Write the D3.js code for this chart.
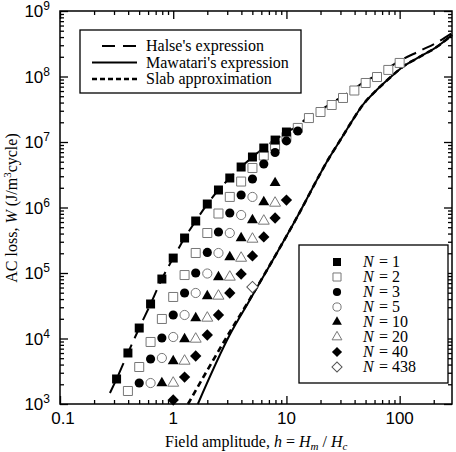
<!DOCTYPE html>
<html>
<head>
<meta charset="utf-8">
<script src="https://d3js.org/d3.v7.min.js"></script>
<style>
  body { margin: 0; background: #fff; }
  text { font-family: "Liberation Serif", "Times New Roman", serif; fill: #000; }
  .num { font-family: "Liberation Sans", Arial, sans-serif; font-size: 17px; }
</style>
</head>
<body>
<div id="chart"></div>
<script>
// h values are on a 0.1-decade grid, W in J/m3cycle
var n1 = [[0.316, 2410], [0.398, 6010], [0.501, 14450], [0.631, 33650], [0.794, 80900], [1.0, 1.69e5],
          [1.26, 3.42e5], [1.58, 6.22e5], [2.0, 1.13e6], [2.51, 1.85e6], [3.16, 2.82e6], [3.98, 4.15e6],
          [5.01, 5.90e6], [6.31, 8.09e6], [7.94, 1.07e7], [10.0, 1.42e7]];
var n2 = [[0.398, 1580], [0.501, 3670], [0.631, 8850], [0.794, 19860], [1.0, 43050], [1.26, 93100],
          [1.58, 2.02e5], [2.0, 4.08e5], [2.51, 8.09e5], [3.16, 1.45e6], [3.98, 2.49e6], [5.01, 4.01e6],
          [6.31, 6.22e6], [7.94, 8.69e6], [10.0, 1.19e7], [12.6, 1.64e7], [15.8, 2.32e7], [20.0, 2.87e7],
          [25.1, 3.67e7], [31.6, 4.70e7], [39.8, 6.11e7], [50.1, 7.96e7], [63.1, 9.82e7], [79.4, 1.26e8],
          [100, 1.61e8]];
var n3 = [[0.501, 2090], [0.631, 4870], [0.794, 10180], [1.0, 22860], [1.26, 49540], [1.58, 1.0e5],
          [2.0, 2.06e5], [2.51, 4.23e5], [3.16, 8.24e5], [3.98, 1.55e6], [5.01, 2.72e6], [6.31, 4.61e6],
          [7.94, 6.92e6], [10.0, 1.04e7], [12.6, 1.47e7]];
var n5 = [[0.631, 2090], [0.794, 5040], [1.0, 10540], [1.26, 22860], [1.58, 49540], [2.0, 98200],
          [2.51, 2.02e5], [3.16, 4.08e5], [3.98, 7.68e5], [5.01, 1.45e6]];
var n10 = [[0.794, 2090], [1.0, 4530], [1.26, 9820], [1.58, 20560], [2.0, 44570], [2.51, 86900],
           [3.16, 1.75e5], [3.98, 3.42e5], [5.01, 6.44e5], [6.31, 1.21e6], [7.94, 2.37e6]];
var n20 = [[1.0, 2090], [1.26, 4530], [1.58, 9820], [2.0, 20560], [2.51, 44570], [3.16, 86900],
           [3.98, 1.69e5], [5.01, 3.30e5], [6.31, 6.22e5], [7.94, 1.17e6]];
var n40 = [[1.0, 1150], [1.26, 2580], [1.58, 5400], [2.0, 11300], [2.51, 22860], [3.16, 49540],
           [3.98, 96600], [5.01, 1.82e5], [6.31, 3.55e5], [7.94, 6.92e5], [10.0, 1.30e6]];
var n438 = [[5.01, 61100]];

var halse = [[0.276, 1470]].concat(n1, [[12.6, 1.75e7], [15.8, 2.49e7], [20.0, 3.08e7], [25.1, 3.94e7],
             [31.6, 5.04e7], [39.8, 6.56e7], [50.1, 8.53e7], [63.1, 1.05e8], [79.4, 1.35e8], [100, 1.73e8],
             [150, 2.45e8], [225, 3.48e8], [290, 4.6e8]]);
var mawatari = [[1.65, 1000], [3.16, 1.14e4], [4.75, 3.87e4], [12.3, 6.92e5], [24.1, 5.90e6], [30.7, 1.15e7],
                [38.5, 2.17e7], [47.2, 3.67e7], [62.7, 6.22e7], [81.6, 9.48e7], [106, 1.40e8],
                [150, 1.99e8], [212, 2.82e8], [290, 4.3e8]];
var slab = [[1.35, 1000], [3.16, 1.26e4], [4.75, 4.0e4], [12.3, 6.92e5], [24.1, 5.90e6], [30.7, 1.15e7],
            [38.5, 2.17e7], [47.2, 3.67e7], [62.7, 6.22e7], [81.6, 9.48e7], [106, 1.40e8],
            [150, 1.99e8], [212, 2.82e8], [290, 4.3e8]];

var xTicks = [0.1, 1, 10, 100];
var xTickLabels = ["0.1", "1", "10", "100"];
var yTicks = [1e3, 1e4, 1e5, 1e6, 1e7, 1e8, 1e9];
var yExp = ["3", "4", "5", "6", "7", "8", "9"];
var seriesNames = ["1", "2", "3", "5", "10", "20", "40", "438"];
var lineNames = ["Halse's expression", "Mawatari's expression", "Slab approximation"];

var W = 456, H = 452;
var pLeft = 60, pRight = 452, pTop = 11, pBottom = 404;

var svg = d3.select("#chart").append("svg")
    .attr("width", W).attr("height", H);
svg.append("rect").attr("width", W).attr("height", H).attr("fill", "#fff");

var x = d3.scaleLog().domain([0.1, 290]).range([pLeft, pRight]);
var y = d3.scaleLog().domain([1e3, 1e9]).range([pBottom, pTop]);

function minors(lo, hi) {
    var out = [];
    for (var d = lo; d < hi; d *= 10)
        for (var m = 2; m <= 9; m++) if (d * m <= hi) out.push(d * m);
    return out;
}
var xMinor = minors(0.1, 290), yMinor = minors(1e3, 1e9);

// axes: ticks pointing inward on all four sides
function tickAxis(axis, vals, size, tr) {
    svg.append("g").attr("transform", tr)
        .call(axis.tickValues(vals).tickSize(size).tickFormat(""))
        .call(function (g) { g.select(".domain").remove(); })
        .selectAll("line").attr("stroke", "#000").attr("stroke-width", 1.3);
}
[[xTicks, 8], [xMinor, 4]].forEach(function (t) {
    tickAxis(d3.axisBottom(x), t[0], -t[1], "translate(0," + pBottom + ")");
    tickAxis(d3.axisTop(x), t[0], -t[1], "translate(0," + pTop + ")");
});
[[yTicks, 8], [yMinor, 4]].forEach(function (t) {
    tickAxis(d3.axisLeft(y), t[0], -t[1], "translate(" + pLeft + ",0)");
    tickAxis(d3.axisRight(y), t[0], -t[1], "translate(" + pRight + ",0)");
});

svg.append("rect")
    .attr("x", pLeft).attr("y", pTop)
    .attr("width", pRight - pLeft).attr("height", pBottom - pTop)
    .attr("fill", "none").attr("stroke", "#000").attr("stroke-width", 1.5);

svg.selectAll(".xl").data(xTicks).enter().append("text")
    .attr("class", "num")
    .attr("x", function (d) { return x(d) + (d === 0.1 ? 3 : 0); })
    .attr("y", 424)
    .attr("text-anchor", "middle")
    .text(function (d, i) { return xTickLabels[i]; });

var yl = svg.selectAll(".yl").data(yTicks).enter().append("text")
    .attr("class", "num")
    .attr("x", 50)
    .attr("y", function (d) { return y(d) + 6; })
    .attr("text-anchor", "end");
yl.append("tspan").text("10");
yl.append("tspan").attr("font-size", "12px").attr("dy", -7)
    .text(function (d, i) { return yExp[i]; });

// axis titles
var xt = svg.append("text").attr("x", 165).attr("y", 447).attr("font-size", "16px");
xt.append("tspan").text("Field amplitude, ");
xt.append("tspan").attr("font-style", "italic").text("h");
xt.append("tspan").text(" = ");
xt.append("tspan").attr("font-style", "italic").text("H");
xt.append("tspan").attr("font-style", "italic").attr("font-size", "11px").attr("dy", 3).text("m");
xt.append("tspan").attr("dy", -3).text(" / ");
xt.append("tspan").attr("font-style", "italic").text("H");
xt.append("tspan").attr("font-style", "italic").attr("font-size", "11px").attr("dy", 3).text("c");

var yt = svg.append("text").attr("transform", "translate(17,208) rotate(-90)")
    .attr("text-anchor", "middle").attr("font-size", "16px");
yt.append("tspan").text("AC loss, ");
yt.append("tspan").attr("font-style", "italic").text("W");
yt.append("tspan").text(" (J/m");
yt.append("tspan").attr("font-size", "11px").attr("dy", -6).text("3");
yt.append("tspan").attr("dy", 6).text("cycle)");

// curves
var line = d3.line()
    .x(function (d) { return x(d[0]); })
    .y(function (d) { return y(d[1]); })
    .curve(d3.curveMonotoneX);

var plot = svg.append("g");
plot.append("path").datum(slab).attr("d", line)
    .attr("fill", "none").attr("stroke", "#000").attr("stroke-width", 2.6).attr("stroke-dasharray", "6,4");
plot.append("path").datum(mawatari).attr("d", line)
    .attr("fill", "none").attr("stroke", "#000").attr("stroke-width", 2);
plot.append("path").datum(halse).attr("d", line)
    .attr("fill", "none").attr("stroke", "#000").attr("stroke-width", 2).attr("stroke-dasharray", "13,7");

// markers
var styles = [
    { sym: d3.symbolSquare, size: 81, rot: 0, fill: "#000", stroke: "none" },
    { sym: d3.symbolSquare, size: 81, rot: 0, fill: "#fff", stroke: "#777" },
    { sym: d3.symbolCircle, size: 66, rot: 0, fill: "#000", stroke: "none" },
    { sym: d3.symbolCircle, size: 66, rot: 0, fill: "#fff", stroke: "#777" },
    { sym: d3.symbolTriangle, size: 52, rot: 0, fill: "#000", stroke: "none" },
    { sym: d3.symbolTriangle, size: 52, rot: 0, fill: "#fff", stroke: "#777" },
    { sym: d3.symbolSquare, size: 64, rot: 45, fill: "#000", stroke: "none" },
    { sym: d3.symbolSquare, size: 64, rot: 45, fill: "#fff", stroke: "#555" }
];
var allSeries = [n1, n2, n3, n5, n10, n20, n40, n438];

// N=2 first so the filled N=1 squares sit on top
[1, 0, 2, 3, 4, 5, 6, 7].forEach(function (i) {
    var s = styles[i];
    plot.selectAll(".m" + i).data(allSeries[i]).enter().append("path")
        .attr("d", d3.symbol().type(s.sym).size(s.size))
        .attr("transform", function (d) {
            return "translate(" + x(d[0]) + "," + y(d[1]) + ") rotate(" + s.rot + ")";
        })
        .attr("fill", s.fill).attr("stroke", s.stroke).attr("stroke-width", 1);
});

// legend for curves
var lg1 = svg.append("g");
lg1.append("rect").attr("x", 80).attr("y", 30).attr("width", 221).attr("height", 63)
    .attr("fill", "#fff").attr("stroke", "#000").attr("stroke-width", 1.3);
var dashes = [["13,8", 2], [null, 2], ["5,3", 2.6]];
lineNames.forEach(function (name, i) {
    var ly = 46 + i * 16.5;
    lg1.append("line").attr("x1", i === 0 ? 102 : 92).attr("x2", 137).attr("y1", ly).attr("y2", ly)
        .attr("stroke", "#000").attr("stroke-width", dashes[i][1])
        .attr("stroke-dasharray", dashes[i][0]);
    lg1.append("text").attr("x", 146).attr("y", ly + 5).attr("font-size", "16px").text(name);
});

// legend for samples
var lg2 = svg.append("g");
lg2.append("rect").attr("x", 299).attr("y", 245).attr("width", 149).attr("height", 138)
    .attr("fill", "#fff").attr("stroke", "#000").attr("stroke-width", 1.3);
seriesNames.forEach(function (name, i) {
    var s = styles[i];
    var ly = 262 + i * 15;
    lg2.append("path")
        .attr("d", d3.symbol().type(s.sym).size(s.size * 0.8))
        .attr("transform", "translate(337," + ly + ") rotate(" + s.rot + ")")
        .attr("fill", s.fill).attr("stroke", s.stroke).attr("stroke-width", 1);
    lg2.append("text").attr("x", 363).attr("y", ly + 5).attr("font-size", "16px")
        .attr("font-style", "italic").text("N");
    lg2.append("text").attr("x", 379).attr("y", ly + 5).attr("font-size", "16px")
        .text("= " + name);
});
</script>
</body>
</html>
